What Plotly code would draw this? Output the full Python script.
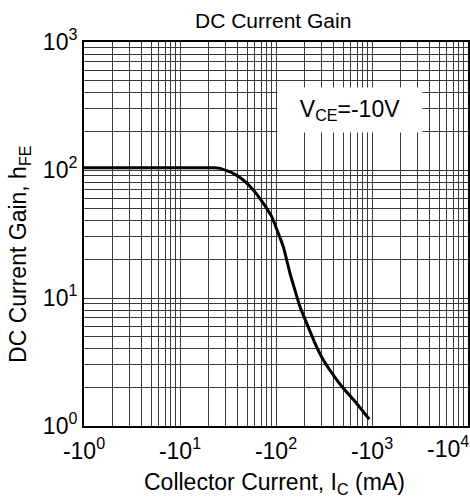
import plotly.graph_objects as go

# Curve data (collector current magnitude in mA, hFE)
ic_ma = [1, 5, 10, 22.1, 26.1, 35.9, 45.6, 58, 73.8, 90.2, 105.7, 119.1, 129.2,
         139.9, 157.7, 177.8, 208.9, 254.9, 311.3, 395.5, 502.5, 693, 937]
hfe = [104, 104, 104, 104, 103, 94.2, 83.5, 69.8, 54.9, 43.2, 32.0, 25.2, 19.8,
       15.6, 11.5, 8.55, 6.34, 4.43, 3.28, 2.50, 1.97, 1.50, 1.13]

x_decades = [0, 1, 2, 3, 4]
y_decades = [0, 1, 2, 3]
x_tick_labels = ["-10<sup>0</sup>", "-10<sup>1</sup>", "-10<sup>2</sup>", "-10<sup>3</sup>", "-10<sup>4</sup>"]
y_tick_labels = ["10<sup>0</sup>", "10<sup>1</sup>", "10<sup>2</sup>", "10<sup>3</sup>"]

def grid_ticks(decades, labels, skip_last_label=False):
    vals, texts = [], []
    for i, d in enumerate(decades):
        for m in range(1, 10):
            if i == len(decades) - 1 and m > 1:
                break
            vals.append(m * 10 ** d)
            lab = labels[i] if m == 1 else ""
            if skip_last_label and i == len(decades) - 1:
                lab = ""
            texts.append(lab)
    return vals, texts

# last x label is drawn separately so it can sit inside the page edge like the reference
xv, xt = grid_ticks(x_decades, x_tick_labels, skip_last_label=True)
yv, yt = grid_ticks(y_decades, y_tick_labels)

FONT = "Arial, Liberation Sans, Helvetica, sans-serif"

fig = go.Figure()
fig.add_trace(go.Scatter(x=ic_ma, y=hfe, mode="lines",
                         line=dict(color="black", width=3, shape="spline", smoothing=0.5),
                         showlegend=False, hoverinfo="skip"))

axis_common = dict(type="log", showline=True, mirror=True, linecolor="black", linewidth=2,
                   showgrid=True, gridcolor="#3a3a3a", gridwidth=1, ticks="",
                   zeroline=False, automargin=False,
                   tickfont=dict(family=FONT, size=23, color="black"))

fig.update_xaxes(range=[0, 4], tickmode="array", tickvals=xv, ticktext=xt,
                 ticklabelstandoff=3, **axis_common)
fig.update_yaxes(range=[0, 3], tickmode="array", tickvals=yv, ticktext=yt, **axis_common)

fig.update_layout(
    width=470, height=503,
    margin=dict(l=84, r=2, t=42, b=77),
    paper_bgcolor="white", plot_bgcolor="white",
    font=dict(family=FONT, color="black"),
    annotations=[
        dict(text="DC Current Gain", xref="paper", yref="paper", x=0.491, y=1.0547,
             showarrow=False, font=dict(size=21), xanchor="center", yanchor="middle"),
        dict(text="Collector Current, I<sub>C</sub> (mA)", xref="paper", yref="paper",
             x=0.497, y=-0.151, showarrow=False, font=dict(size=23),
             xanchor="center", yanchor="middle"),
        dict(text="DC Current Gain, h<sub>FE</sub>", xref="paper", yref="paper",
             x=-0.1667, y=0.448, textangle=-90, showarrow=False, font=dict(size=23),
             xanchor="center", yanchor="middle"),
        dict(text="V<sub>CE</sub>=-10V", xref="paper", yref="paper", x=0.693, y=0.823,
             showarrow=False, font=dict(size=23), bgcolor="white", width=140, height=40,
             borderpad=2, xanchor="center", yanchor="middle"),
        dict(text=x_tick_labels[-1], xref="x", yref="paper", x=x_decades[-1], y=-0.0547,
             showarrow=False, font=dict(size=23), xanchor="right", yanchor="middle",
             xshift=2, borderpad=0),
    ],
)

fig.write_html("out.html", config={"displayModeBar": False, "staticPlot": True},
               post_script="document.body.style.margin='0';")
